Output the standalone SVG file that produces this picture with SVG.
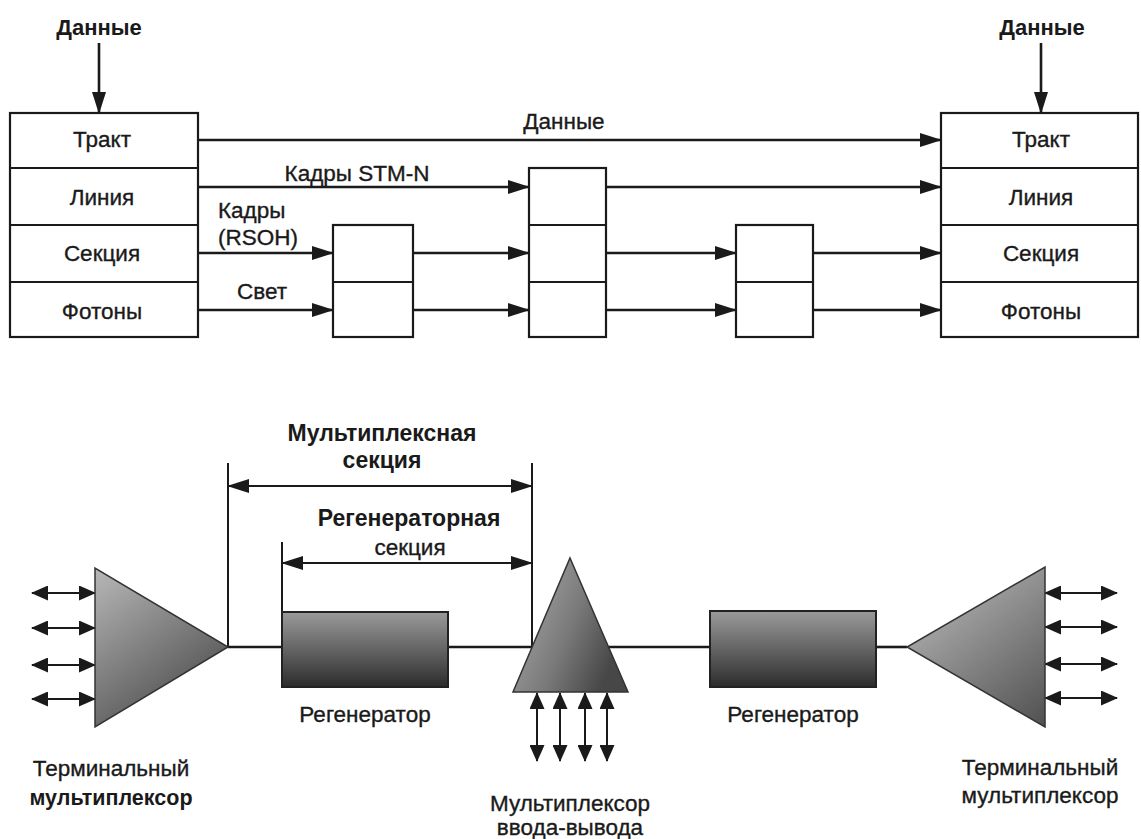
<svg xmlns="http://www.w3.org/2000/svg" width="1141" height="839" viewBox="0 0 1141 839">
<style>
  text { font-family: "Liberation Sans", Arial, sans-serif; font-size: 22.5px; fill: #1a1a1a; stroke: #1a1a1a; stroke-width: 0.35; text-anchor: middle; dominant-baseline: central; }
  .b { font-weight: bold; stroke-width: 0; }
  .s { font-size: 22px; }
  .d { font-size: 23px; }
  .l { text-anchor: start; }
  .box { fill: #fff; stroke: #1a1a1a; stroke-width: 2.2; }
  .div { stroke: #1a1a1a; stroke-width: 2.2; }
  .ln { stroke: #1a1a1a; stroke-width: 2.6; fill: none; }
  .thin { stroke: #1a1a1a; stroke-width: 2; fill: none; }
  .arr { marker-end: url(#ah); }
  .dbl { marker-start: url(#ahs); marker-end: url(#ahs); }
  .dim { marker-start: url(#ah); marker-end: url(#ah); }
</style>
<defs>
  <marker id="ah" markerUnits="userSpaceOnUse" markerWidth="22" markerHeight="14" refX="21" refY="7" orient="auto-start-reverse">
    <path d="M0,0 L22,7 L0,14 z" fill="#1a1a1a"/>
  </marker>
  <marker id="ahs" markerUnits="userSpaceOnUse" markerWidth="17" markerHeight="15" refX="16" refY="7.5" orient="auto-start-reverse">
    <path d="M0,0 L17,7.5 L0,15 z" fill="#1a1a1a"/>
  </marker>
  <linearGradient id="gTri" x1="0" y1="0" x2="0.6" y2="1">
    <stop offset="0" stop-color="#b8b8b8"/>
    <stop offset="1" stop-color="#4e4e4e"/>
  </linearGradient>
  <linearGradient id="gTriR" x1="0.3" y1="0" x2="1" y2="1">
    <stop offset="0" stop-color="#b4b4b4"/>
    <stop offset="1" stop-color="#505050"/>
  </linearGradient>
  <linearGradient id="gAdm" x1="0" y1="0" x2="1" y2="0.5">
    <stop offset="0" stop-color="#b0b0b0"/>
    <stop offset="0.6" stop-color="#7a7a7a"/>
    <stop offset="1" stop-color="#474747"/>
  </linearGradient>
  <linearGradient id="gReg" x1="0" y1="0" x2="0" y2="1">
    <stop offset="0" stop-color="#9a9a9a"/>
    <stop offset="0.5" stop-color="#646464"/>
    <stop offset="1" stop-color="#2c2c2c"/>
  </linearGradient>
</defs>
<rect width="1141" height="839" fill="#fff"/>

<g id="connectors">
  <line class="ln arr" x1="99" y1="43" x2="99" y2="113"/>
  <line class="ln arr" x1="1041" y1="43" x2="1041" y2="113"/>
  <line class="ln arr" x1="198" y1="140" x2="941" y2="140"/>
  <line class="ln arr" x1="198" y1="187" x2="529" y2="187"/>
  <line class="ln arr" x1="606" y1="187" x2="941" y2="187"/>
  <line class="ln arr" x1="198" y1="253" x2="333" y2="253"/>
  <line class="ln arr" x1="413" y1="253" x2="529" y2="253"/>
  <line class="ln arr" x1="606" y1="253" x2="736" y2="253"/>
  <line class="ln arr" x1="813" y1="253" x2="941" y2="253"/>
  <line class="ln arr" x1="198" y1="310" x2="333" y2="310"/>
  <line class="ln arr" x1="413" y1="310" x2="529" y2="310"/>
  <line class="ln arr" x1="606" y1="310" x2="736" y2="310"/>
  <line class="ln arr" x1="813" y1="310" x2="941" y2="310"/>
  <line class="thin" x1="228" y1="463" x2="228" y2="647"/>
  <line class="thin" x1="532" y1="463" x2="532" y2="647"/>
  <line class="thin dim" x1="228" y1="486" x2="532" y2="486"/>
  <line class="thin" x1="282" y1="542" x2="282" y2="612"/>
  <line class="thin dim" x1="282" y1="563" x2="532" y2="563"/>
  <line class="ln" x1="228" y1="647" x2="282" y2="647"/>
  <line class="ln" x1="448" y1="647" x2="710" y2="647"/>
  <line class="ln" x1="876" y1="647" x2="907" y2="647"/>
  <line class="thin dbl" x1="32" y1="593" x2="95" y2="593"/>
  <line class="thin dbl" x1="32" y1="628" x2="95" y2="628"/>
  <line class="thin dbl" x1="32" y1="665" x2="95" y2="665"/>
  <line class="thin dbl" x1="32" y1="699" x2="95" y2="699"/>
  <line class="thin dbl" x1="1045" y1="593" x2="1117" y2="593"/>
  <line class="thin dbl" x1="1045" y1="627" x2="1117" y2="627"/>
  <line class="thin dbl" x1="1045" y1="664" x2="1117" y2="664"/>
  <line class="thin dbl" x1="1045" y1="698" x2="1117" y2="698"/>
  <line class="thin dbl" x1="537" y1="693" x2="537" y2="761"/>
  <line class="thin dbl" x1="560" y1="693" x2="560" y2="761"/>
  <line class="thin dbl" x1="585" y1="693" x2="585" y2="761"/>
  <line class="thin dbl" x1="607" y1="693" x2="607" y2="761"/>
</g>

<g id="labels-top">
  <text class="b s" x="99" y="27">Данные</text>
  <text class="b s" x="1042" y="27">Данные</text>
  <text x="564" y="121">Данные</text>
  <text x="357" y="173">Кадры STM-N</text>
  <text class="l" x="218" y="210">Кадры</text>
  <text class="l" x="218" y="237">(RSOH)</text>
  <text x="262" y="291">Свет</text>
</g>

<g id="stack-left">
  <rect class="box" x="10" y="113" width="188" height="224"/>
  <line class="div" x1="10" y1="168" x2="198" y2="168"/>
  <line class="div" x1="10" y1="225" x2="198" y2="225"/>
  <line class="div" x1="10" y1="282" x2="198" y2="282"/>
  <text x="102" y="139">Тракт</text>
  <text x="102" y="197">Линия</text>
  <text x="102" y="253">Секция</text>
  <text x="102" y="311">Фотоны</text>
</g>

<g id="stack-right">
  <rect class="box" x="941" y="113" width="197" height="224"/>
  <line class="div" x1="941" y1="168" x2="1138" y2="168"/>
  <line class="div" x1="941" y1="225" x2="1138" y2="225"/>
  <line class="div" x1="941" y1="282" x2="1138" y2="282"/>
  <text x="1041" y="139">Тракт</text>
  <text x="1041" y="197">Линия</text>
  <text x="1041" y="253">Секция</text>
  <text x="1041" y="311">Фотоны</text>
</g>

<g id="box-regen1">
  <rect class="box" x="333" y="225" width="80" height="112"/>
  <line class="div" x1="333" y1="282" x2="413" y2="282"/>
</g>
<g id="box-adm">
  <rect class="box" x="529" y="168" width="77" height="169"/>
  <line class="div" x1="529" y1="225" x2="606" y2="225"/>
  <line class="div" x1="529" y1="282" x2="606" y2="282"/>
</g>
<g id="box-regen2">
  <rect class="box" x="736" y="225" width="77" height="112"/>
  <line class="div" x1="736" y1="282" x2="813" y2="282"/>
</g>

<g id="dim-labels">
  <text class="b d" x="382" y="433">Мультиплексная</text>
  <text class="b d" x="382" y="460">секция</text>
  <text class="b d" x="409" y="518">Регенераторная</text>
  <text x="410" y="547">секция</text>
</g>

<g id="tm-left">
  <polygon points="95,568 95,727 228,647" fill="url(#gTri)" stroke="#333" stroke-width="1.5"/>
  <text x="111" y="768">Терминальный</text>
  <text class="b" x="111" y="798" style="font-size:21.5px">мультиплексор</text>
</g>

<g id="regenerator-1">
  <rect x="282" y="612" width="166" height="75" fill="url(#gReg)" stroke="#222" stroke-width="2"/>
  <text x="365" y="714">Регенератор</text>
</g>

<g id="adm">
  <polygon points="570,558 628,692 513,692" fill="url(#gAdm)" stroke="#333" stroke-width="1.5"/>
  <text x="570" y="803">Мультиплексор</text>
  <text x="570" y="827">ввода-вывода</text>
</g>

<g id="regenerator-2">
  <rect x="710" y="611" width="166" height="76" fill="url(#gReg)" stroke="#222" stroke-width="2"/>
  <text x="793" y="714">Регенератор</text>
</g>

<g id="tm-right">
  <polygon points="1045,567 1045,727 907,647" fill="url(#gTriR)" stroke="#333" stroke-width="1.5"/>
  <text x="1040" y="767">Терминальный</text>
  <text x="1040" y="795">мультиплексор</text>
</g>
</svg>
